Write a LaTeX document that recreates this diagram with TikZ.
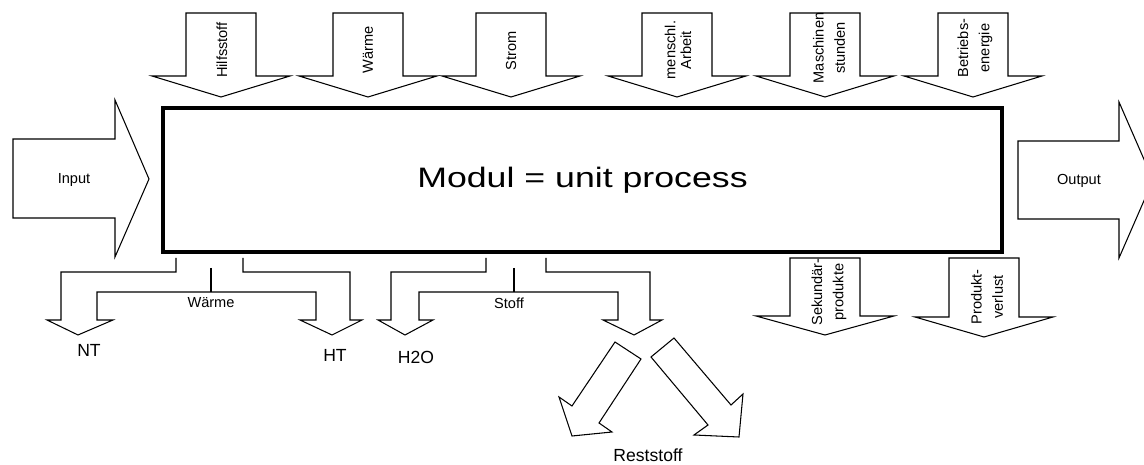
\documentclass[tikz,border=0pt]{standalone}
\usepackage{fontspec}
\setmainfont{Liberation Sans}
\usepackage{graphicx}
\usepackage{tikz}
\tikzset{flow/.style={draw,line width=0.6pt,fill=white,line join=miter},
         modulbox/.style={draw,line width=2.3pt,minimum width=16.78cm,minimum height=2.88cm,inner sep=0pt},
         small/.style={font=\fontsize{8.3}{12}\selectfont,inner sep=0pt},
         rot/.style={small,rotate=90,align=center},
         mid/.style={font=\fontsize{10}{12}\selectfont,inner sep=0pt}}
% arrow pointing down: centre x, shaft top y, head base y, tip y
\newcommand{\downflow}[4]{\draw[flow] ({#1-35},#2) -- ({#1+35},#2) -- ({#1+35},#3) -- ({#1+69},#3)
  -- (#1,#4) -- ({#1-69},#3) -- ({#1-35},#3) -- cycle;}

\begin{document}
\begin{tikzpicture}[x=0.02cm,y=-0.02cm]
\useasboundingbox (0,0) rectangle (1144,465);
% main process
\node[modulbox](modul) at (582.5,180) {\scalebox{1.27}[1]{\fontsize{16}{19}\selectfont Modul = unit process}};
% input / output
\draw[flow] (13,139) -- (115,139) -- (115,100) -- (149,179) -- (115,257) -- (115,218) -- (13,218) -- cycle;
\node[small](input) at (74,180) {Input};
\draw[flow] (1018,141) -- (1119,141) -- (1119,102) -- (1153,180) -- (1119,258) -- (1119,219) -- (1018,219) -- cycle;
\node[small](output) at (1079,181) {Output};
% inputs from above
\downflow{221}{13}{76}{97}
\downflow{368}{13}{76}{97}
\downflow{511}{13}{76}{97}
\downflow{677}{13}{76}{97}
\downflow{825}{13}{76}{97}
\downflow{973}{13}{76}{97}
\node[rot](hilf) at (222,50) {Hilfsstoff};
\node[rot](waerme) at (368,50) {Wärme};
\node[rot](strom) at (511,51) {Strom};
\node[rot](arbeit) at (678,50) {menschl.\\[-3pt]Arbeit};
\node[rot](masch) at (829,48) {Maschinen\\stunden};
\node[rot](betrieb) at (975,48) {Betriebs-\\energie};
% outputs below
\downflow{825}{258}{316}{335}
\downflow{984}{258}{317}{337}
\node[rot](sekund) at (829,292) {Sekundär-\\produkte};
\node[rot](verlust) at (987,297) {Produkt-\\verlust};
% Waerme split
\draw[flow,fill=none] (176,258) -- (176,272) -- (61,272) -- (61,320) -- (47,320) -- (78,335) -- (113,320) -- (97,320)
  -- (97,292) -- (316,292) -- (316,320) -- (300,320) -- (332,335) -- (362,320) -- (350,320) -- (350,272)
  -- (243,272) -- (243,258);
\draw[flow] (211,268) -- (211,292);
\node[small](wsplit) at (211,303) {Wärme};
\node[mid](nt) at (89,350) {NT};
\node[mid](ht) at (335,355) {HT};
% Stoff split
\draw[flow,fill=none] (486,258) -- (486,272) -- (391,272) -- (391,320) -- (378,320) -- (405,335) -- (433,320) -- (419,320)
  -- (419,292) -- (618,292) -- (618,320) -- (603,320) -- (634,335) -- (662,320) -- (650,320) -- (650,272)
  -- (546,272) -- (546,258);
\draw[flow] (514,268) -- (514,292);
\node[small](ssplit) at (509,303) {Stoff};
\node[mid](h2o) at (416,357) {H2O};
% Reststoff
\draw[flow] (615,342) -- (572,406) -- (559,397) -- (572,436) -- (612,432) -- (599,423) -- (641,359) -- cycle;
\draw[flow] (674,338) -- (731,405) -- (743,394) -- (739,437) -- (694,435) -- (708,425) -- (651,357) -- cycle;
\node[mid](rest) at (648,455) {Reststoff};
\end{tikzpicture}
\end{document}
